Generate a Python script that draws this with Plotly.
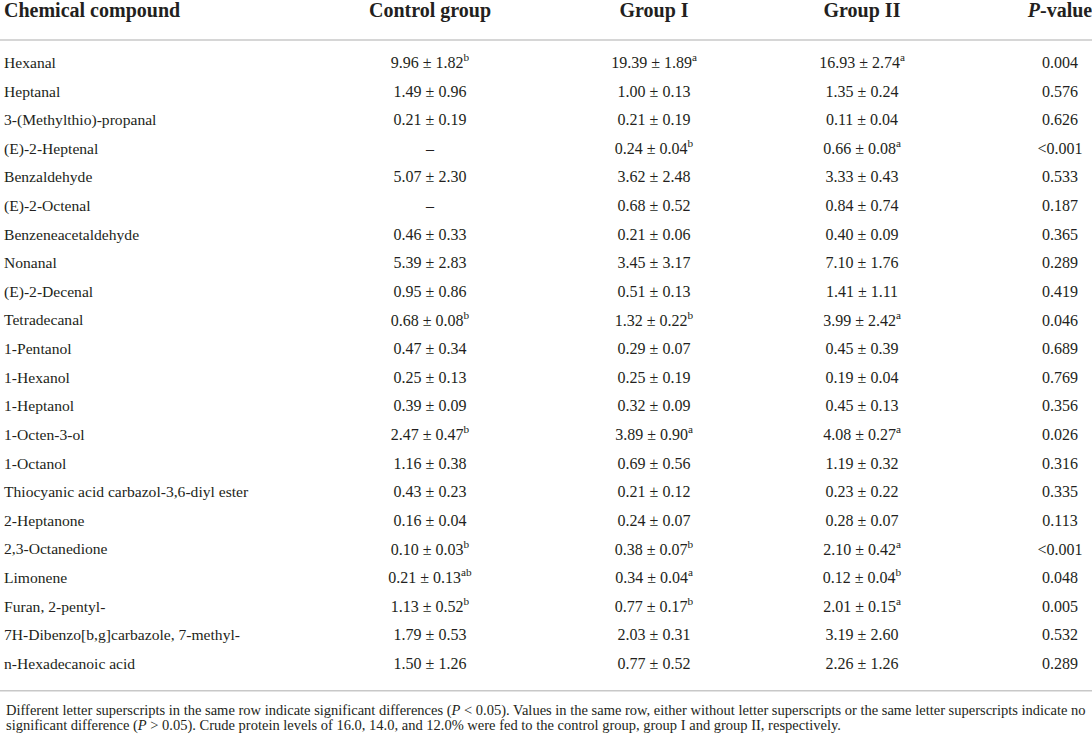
import plotly.graph_objects as go

# Table data
compounds = [
    "Hexanal", "Heptanal", "3-(Methylthio)-propanal", "(E)-2-Heptenal", "Benzaldehyde",
    "(E)-2-Octenal", "Benzeneacetaldehyde", "Nonanal", "(E)-2-Decenal", "Tetradecanal",
    "1-Pentanol", "1-Hexanol", "1-Heptanol", "1-Octen-3-ol", "1-Octanol",
    "Thiocyanic acid carbazol-3,6-diyl ester", "2-Heptanone", "2,3-Octanedione", "Limonene",
    "Furan, 2-pentyl-", "7H-Dibenzo[b,g]carbazole, 7-methyl-", "n-Hexadecanoic acid",
]

control_mean = [9.96, 1.49, 0.21, None, 5.07, None, 0.46, 5.39, 0.95, 0.68, 0.47,
                0.25, 0.39, 2.47, 1.16, 0.43, 0.16, 0.10, 0.21, 1.13, 1.79, 1.50]
control_sd = [1.82, 0.96, 0.19, None, 2.30, None, 0.33, 2.83, 0.86, 0.08, 0.34,
              0.13, 0.09, 0.47, 0.38, 0.23, 0.04, 0.03, 0.13, 0.52, 0.53, 1.26]
control_sig = ["b", "", "", "", "", "", "", "", "", "b", "",
               "", "", "b", "", "", "", "b", "ab", "b", "", ""]

g1_mean = [19.39, 1.00, 0.21, 0.24, 3.62, 0.68, 0.21, 3.45, 0.51, 1.32, 0.29,
           0.25, 0.32, 3.89, 0.69, 0.21, 0.24, 0.38, 0.34, 0.77, 2.03, 0.77]
g1_sd = [1.89, 0.13, 0.19, 0.04, 2.48, 0.52, 0.06, 3.17, 0.13, 0.22, 0.07,
         0.19, 0.09, 0.90, 0.56, 0.12, 0.07, 0.07, 0.04, 0.17, 0.31, 0.52]
g1_sig = ["a", "", "", "b", "", "", "", "", "", "b", "",
          "", "", "a", "", "", "", "b", "a", "b", "", ""]

g2_mean = [16.93, 1.35, 0.11, 0.66, 3.33, 0.84, 0.40, 7.10, 1.41, 3.99, 0.45,
           0.19, 0.45, 4.08, 1.19, 0.23, 0.28, 2.10, 0.12, 2.01, 3.19, 2.26]
g2_sd = [2.74, 0.24, 0.04, 0.08, 0.43, 0.74, 0.09, 1.76, 1.11, 2.42, 0.39,
         0.04, 0.13, 0.27, 0.32, 0.22, 0.07, 0.42, 0.04, 0.15, 2.60, 1.26]
g2_sig = ["a", "", "", "a", "", "", "", "", "", "a", "",
          "", "", "a", "", "", "", "a", "b", "a", "", ""]

p_values = ["0.004", "0.576", "0.626", "&lt;0.001", "0.533", "0.187", "0.365", "0.289",
            "0.419", "0.046", "0.689", "0.769", "0.356", "0.026", "0.316", "0.335",
            "0.113", "&lt;0.001", "0.048", "0.005", "0.532", "0.289"]

headers = ["Chemical compound", "Control group", "Group I", "Group II", "<i>P</i>-value"]

footnote_lines = [
    "Different letter superscripts in the same row indicate significant differences "
    "(<i>P</i> &lt; 0.05). Values in the same row, either without letter superscripts "
    "or the same letter superscripts indicate no",
    "significant difference (<i>P</i> &gt; 0.05). Crude protein levels of 16.0, 14.0, "
    "and 12.0% were fed to the control group, group I and group II, respectively.",
]


def fmt(means, sds, sigs):
    out = []
    for m, s, g in zip(means, sds, sigs):
        if m is None:
            out.append("–")
        else:
            t = f"{m:.2f} ± {s:.2f}"
            if g:
                t += f"<sup>{g}</sup>"
            out.append(t)
    return out


rows = list(range(len(compounds)))
col_x = [4, 430, 654, 862, 1060]
text_color = "#231f20"
body_font = dict(family="Liberation Serif", size=16, color=text_color)
head_font = dict(family="Liberation Serif", size=20, color=text_color)

fig = go.Figure()

# compound names (left aligned)
fig.add_trace(go.Scatter(x=[col_x[0]] * len(rows), y=rows, mode="text",
                         text=compounds, textposition="middle right", cliponaxis=False,
                         textfont=dict(family="Liberation Serif", size=15.6, color=text_color),
                         hoverinfo="skip"))

columns = [fmt(control_mean, control_sd, control_sig),
           fmt(g1_mean, g1_sd, g1_sig),
           fmt(g2_mean, g2_sd, g2_sig),
           p_values]
for cx, col in zip(col_x[1:], columns):
    fig.add_trace(go.Scatter(x=[cx] * len(rows), y=rows, mode="text",
                             text=col, textposition="middle center", cliponaxis=False,
                             textfont=body_font, hoverinfo="skip"))

# header row
header_y = -1.8
fig.add_trace(go.Scatter(x=[col_x[0]], y=[header_y], mode="text",
                         text=["<b>" + headers[0] + "</b>"], textposition="middle right",
                         cliponaxis=False, textfont=head_font, hoverinfo="skip"))
fig.add_trace(go.Scatter(x=col_x[1:], y=[header_y] * 4, mode="text",
                         text=["<b>" + h + "</b>" for h in headers[1:]],
                         textposition="middle center", cliponaxis=False,
                         textfont=head_font, hoverinfo="skip"))

# rules under header and under last row
for yy in [-0.84, 21.9]:
    fig.add_shape(type="line", xref="paper", yref="y", x0=0, x1=1, y0=yy, y1=yy,
                  line=dict(color="#c8c8c8", width=1.5))

# footnote, one annotation per line
for yy, line in zip([22.58, 23.13], footnote_lines):
    fig.add_annotation(x=4, y=yy, xref="x", yref="y", text=line, showarrow=False,
                       xanchor="left", yanchor="middle", align="left",
                       font=dict(family="Liberation Serif", size=14.5, color=text_color))

fig.update_xaxes(range=[0, 1092], visible=False, fixedrange=True)
fig.update_yaxes(range=[23.62, -2.236], visible=False, fixedrange=True)
fig.update_layout(width=1092, height=740, margin=dict(l=0, r=0, t=0, b=0),
                  plot_bgcolor="white", paper_bgcolor="white", showlegend=False)

# drop the default 8px page margin so the figure fills the window
fig.write_html("out.html", config={"displayModeBar": False},
               post_script="document.body.style.margin='0px';")
